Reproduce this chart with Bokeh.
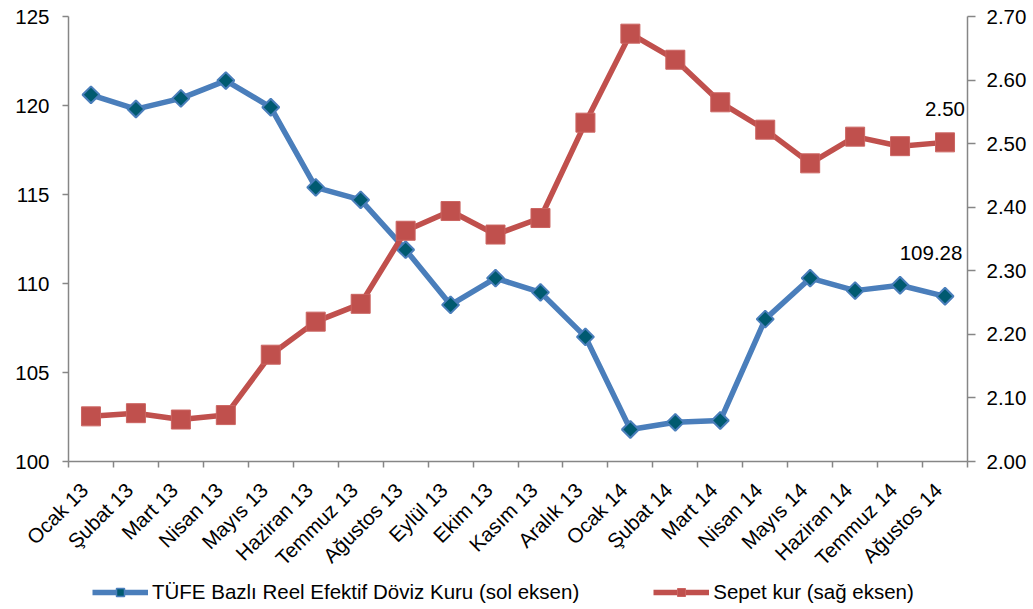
import math
from bokeh.plotting import figure
from bokeh.layouts import column
from bokeh.models import (Range1d, LinearAxis, FixedTicker, Legend, LegendItem,
                          Label, ColumnDataSource)
from bokeh.embed import file_html
from bokeh.resources import INLINE

categories = ["Ocak 13", "Şubat 13", "Mart 13", "Nisan 13", "Mayıs 13", "Haziran 13",
              "Temmuz 13", "Ağustos 13", "Eylül 13", "Ekim 13", "Kasım 13", "Aralık 13",
              "Ocak 14", "Şubat 14", "Mart 14", "Nisan 14", "Mayıs 14", "Haziran 14",
              "Temmuz 14", "Ağustos 14"]
tufe = [120.6, 119.8, 120.4, 121.4, 119.9, 115.4, 114.7, 111.9, 108.8, 110.3,
        109.5, 107.0, 101.8, 102.2, 102.3, 108.0, 110.3, 109.6, 109.9, 109.28]
sepet = [2.071, 2.076, 2.066, 2.073, 2.168, 2.220, 2.248, 2.363, 2.394, 2.357,
         2.383, 2.533, 2.673, 2.632, 2.565, 2.522, 2.469, 2.511, 2.496, 2.502]
left_ticks = [100, 105, 110, 115, 120, 125]
right_ticks = [2.0, 2.1, 2.2, 2.3, 2.4, 2.5, 2.6, 2.7]
series_names = ["TÜFE Bazlı Reel Efektif Döviz Kuru (sol eksen)", "Sepet kur (sağ eksen)"]

FONT = "Liberation Sans"
FS = "20.5px"
BLUE = "#4A7EBB"
TEAL = "#005A70"
RED = "#C0504D"
RED_EDGE = "#CB6461"
AXIS = "#868686"

xs = [i + 0.5 for i in range(len(categories))]
label_pos = [x - 0.15 for x in xs]
src = ColumnDataSource(dict(x=xs, tufe=tufe, sepet=sepet))

p = figure(width=1030, height=580, output_backend="svg", toolbar_location=None,
           x_range=Range1d(0, len(categories)), y_range=Range1d(100, 125),
           min_border_left=68, min_border_right=63, min_border_top=16,
           min_border_bottom=119, outline_line_color=None)
p.extra_y_ranges = {"right": Range1d(2.0, 2.7)}
p.xgrid.visible = False
p.ygrid.visible = False

# x axis
xa = p.xaxis[0]
xa.ticker = FixedTicker(ticks=label_pos, minor_ticks=list(range(len(categories) + 1)))
xa.major_label_overrides = {x: c for x, c in zip(label_pos, categories)}
xa.major_tick_line_color = None
xa.minor_tick_in = 0
xa.minor_tick_out = 6
xa.minor_tick_line_color = AXIS
xa.minor_tick_line_width = 1.5
xa.axis_line_color = AXIS
xa.axis_line_width = 1.5
xa.major_label_orientation = math.pi / 4
xa.major_label_text_font = FONT
xa.major_label_text_font_size = FS
xa.major_label_text_color = "black"
xa.major_label_standoff = 19

# left axis
ya = p.yaxis[0]
ya.ticker = FixedTicker(ticks=left_ticks)
ya.minor_tick_line_color = None
ya.major_tick_in = 0
ya.major_tick_out = 6
ya.major_tick_line_color = AXIS
ya.major_tick_line_width = 1.5
ya.axis_line_color = AXIS
ya.axis_line_width = 1.5
ya.major_label_text_font = FONT
ya.major_label_text_font_size = FS
ya.major_label_text_color = "black"
ya.major_label_standoff = 13

# right axis
ra = LinearAxis(y_range_name="right", ticker=FixedTicker(ticks=right_ticks))
ra.major_label_overrides = {t: f"{t:.2f}" for t in right_ticks}
ra.minor_tick_line_color = None
ra.major_tick_in = 0
ra.major_tick_out = 8
ra.major_tick_line_color = AXIS
ra.major_tick_line_width = 1.5
ra.axis_line_color = AXIS
ra.axis_line_width = 1.5
ra.major_label_text_font = FONT
ra.major_label_text_font_size = FS
ra.major_label_text_color = "black"
ra.major_label_standoff = 11
p.add_layout(ra, "right")

# series
p.line("x", "tufe", source=src, line_color=BLUE, line_width=5.5)
p.scatter("x", "tufe", source=src, marker="square", angle=math.pi / 4, size=12,
          fill_color=TEAL, line_color=BLUE, line_width=2)
p.line("x", "sepet", source=src, y_range_name="right", line_color=RED, line_width=5.5)
p.scatter("x", "sepet", source=src, y_range_name="right", marker="square", size=19,
          fill_color=RED, line_color=RED_EDGE, line_width=1)

# end labels
p.add_layout(Label(x=xs[-1], y=tufe[-1], text=f"{tufe[-1]:.2f}", x_offset=-14, y_offset=36,
                   text_align="center", text_baseline="bottom", text_font=FONT,
                   text_font_size=FS, text_color="black"))
p.add_layout(Label(x=xs[-1], y=sepet[-1], y_range_name="right", text=f"{sepet[-1]:.2f}",
                   y_offset=26, text_align="center", text_baseline="bottom",
                   text_font=FONT, text_font_size=FS, text_color="black"))

# legend strip: legend-key renderers whose data lie outside this strip's visible range
lg = figure(width=1030, height=27, output_backend="svg", toolbar_location=None,
            x_range=Range1d(0, 1), y_range=Range1d(-10, -9), min_border=0,
            outline_line_color=None)
lg.axis.visible = False
lg.xgrid.visible = False
lg.ygrid.visible = False
b1 = lg.line("x", "tufe", source=src, line_color=BLUE, line_width=5.5)
b2 = lg.scatter("x", "tufe", source=src, marker="square", angle=math.pi / 4, size=9,
                fill_color=TEAL, line_color=BLUE, line_width=1.5)
r1 = lg.line("x", "sepet", source=src, line_color=RED, line_width=5.5)
r2 = lg.scatter("x", "sepet", source=src, marker="square", size=12,
                fill_color=RED, line_color=RED_EDGE, line_width=1)
legend = Legend(items=[
    LegendItem(label=series_names[0], renderers=[b1, b2]),
    LegendItem(label=series_names[1], renderers=[r1, r2]),
], orientation="horizontal", location=(24, 3),
    label_text_font=FONT, label_text_font_size=FS, label_text_color="black",
    glyph_width=56, glyph_height=20, label_standoff=4, spacing=74,
    padding=0, margin=0, border_line_color=None, background_fill_alpha=0)
lg.add_layout(legend, "center")

layout = column(p, lg, spacing=0)
open("out.html", "w").write(file_html(layout, INLINE))
